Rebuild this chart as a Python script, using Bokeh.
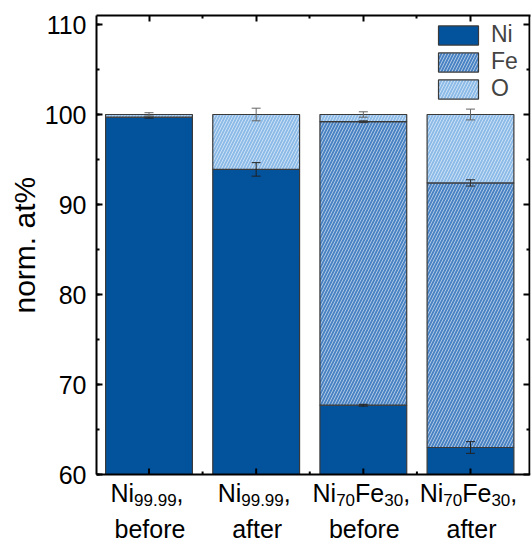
from bokeh.plotting import figure
from bokeh.core.properties import value
from bokeh.models import (Range1d, FixedTicker, SingleIntervalTicker,
                          ColumnDataSource, Whisker, TeeHead, Legend, LegendItem,
                          CustomLabelingPolicy, Title)
from bokeh.embed import file_html
from bokeh.resources import INLINE

# ---------------- data ----------------
label_line1 = [
    [("Ni", "n"), ("99.99", "s"), (",", "n")],
    [("Ni", "n"), ("99.99", "s"), (",", "n")],
    [("Ni", "n"), ("70", "s"), ("Fe", "n"), ("30", "s"), (",", "n")],
    [("Ni", "n"), ("70", "s"), ("Fe", "n"), ("30", "s"), (",", "n")],
]
label_line2 = ["before", "after", "before", "after"]
y_title = "norm. at%"
series = ["Ni", "Fe", "O"]
ni = [99.7, 93.9, 67.7, 63.0]
fe = [0.0, 0.0, 31.5, 29.4]
o = [0.3, 6.1, 0.8, 7.6]
ni_err = [0.1, 0.75, 0.1, 0.65]
fe_err = [0.0, 0.0, 0.1, 0.35]
o_err = [0.2, 0.7, 0.3, 0.6]
y_ticks = [60, 70, 80, 90, 100, 110]
y_min, y_max = 60, 111

# ---------------- layout / styling ----------------
FONT = "Liberation Sans"
MAIN = 25
SUB = 17
C_NI = "#02529C"
C_FE = "#4A83C3"
C_O = "#8DBBE8"
OUT = "#3a3a3a"
Wd, H = 531, 542
LEFT, RIGHT = 96, 1
TOP = 15          # frame top in px
AXIS_Y = 474      # px of the bottom axis line
X0, X1 = 0.51, 4.56
SCALE = (AXIS_Y - TOP) / (y_max - y_min)      # px per y unit
XSCALE = (Wd - LEFT - RIGHT) / (X1 - X0)      # px per x unit
y_low = y_min - (H - AXIS_Y) / SCALE          # frame extends below axis for labels
TXT_SHIFT = 9     # empirical baseline correction of text glyphs


def px(d):
    return d / SCALE


def pxx(d):
    return d / XSCALE


xs = list(range(1, len(ni) + 1))
ni_top = ni[:]
fe_top = [a + b for a, b in zip(ni, fe)]
o_top = [a + b + c for a, b, c in zip(ni, fe, o)]

p = figure(width=Wd, height=H, output_backend="svg", toolbar_location=None,
           x_range=Range1d(X0, X1), y_range=Range1d(y_low, y_max),
           x_axis_location="above",
           min_border_left=LEFT, min_border_right=RIGHT, min_border_top=TOP, min_border_bottom=0)
p.xgrid.visible = False
p.ygrid.visible = False
p.outline_line_color = None
p.background_fill_color = "white"
p.border_fill_color = "white"

W = 0.81
HATCH = dict(hatch_pattern="/", hatch_color="white", hatch_alpha=0.55,
             hatch_scale=6, hatch_weight=1)
src = ColumnDataSource(dict(x=xs, ni_b=[y_min] * len(xs), ni_t=ni_top, fe_t=fe_top, o_t=o_top))
r_ni = p.vbar(x="x", bottom="ni_b", top="ni_t", width=W, source=src,
              fill_color=C_NI, line_color=OUT, line_width=1.2)
r_fe = p.vbar(x="x", bottom="ni_t", top="fe_t", width=W, source=src,
              fill_color=C_FE, line_color=OUT, line_width=1.2, **HATCH)
r_o = p.vbar(x="x", bottom="fe_t", top="o_t", width=W, source=src,
             fill_color=C_O, line_color=OUT, line_width=1.2, **HATCH)


def add_whisker(tops, errs, color):
    bx, lo, hi = [], [], []
    for x, t, e in zip(xs, tops, errs):
        if e > 0:
            bx.append(x)
            lo.append(t - e)
            hi.append(t + e)
    s = ColumnDataSource(dict(base=bx, lower=lo, upper=hi))
    w = Whisker(base="base", lower="lower", upper="upper", source=s, dimension="height",
                line_color=color, line_width=1, level="overlay",
                upper_head=TeeHead(size=9, line_color=color, line_width=1),
                lower_head=TeeHead(size=9, line_color=color, line_width=1))
    p.add_layout(w)


add_whisker(ni_top, ni_err, "#222222")
add_whisker(fe_top, fe_err, "#333333")
add_whisker(o_top, o_err, "#666666")

# ---------------- axes ----------------
NO_LABELS = "for (const i of Array.from(indices)) { indices.unset(i) }\nreturn indices"


def style_axis(ax):
    ax.axis_line_color = "black"
    ax.axis_line_width = 2
    ax.major_tick_in = 6
    ax.major_tick_out = 0
    ax.minor_tick_in = 3
    ax.minor_tick_out = 0
    ax.major_tick_line_width = 2
    ax.minor_tick_line_width = 2
    ax.major_tick_line_color = "black"
    ax.minor_tick_line_color = "black"


minor_x = [x + 0.5 for x in xs[:-1]]
xa = p.xaxis[0]   # top axis (ticks only)
xa.ticker = FixedTicker(ticks=xs, minor_ticks=minor_x)
style_axis(xa)
xa.major_label_policy = CustomLabelingPolicy(code=NO_LABELS)
xa.major_label_standoff = 0

ya = p.yaxis[0]
ya.ticker = SingleIntervalTicker(interval=10, num_minor_ticks=2)
ya.bounds = (y_min, y_max)
style_axis(ya)
ya.major_label_text_font = FONT
ya.major_label_text_font_size = "25px"
ya.major_label_text_color = "black"
ya.major_label_standoff = 10

# y title as a left-side Title so it can be centred on the 60..111 span
p.add_layout(Title(text=y_title, align="left", offset=(H - 313), standoff=2,
                   text_font=FONT, text_font_size="30px", text_font_style="normal",
                   text_color="black"), "left")

# bottom and right frame lines with inward ticks
minor_y = [(a + b) / 2 for a, b in zip(y_ticks[:-1], y_ticks[1:])]
xr = X1 - pxx(1)
seg = dict(line_color="black", line_width=2)
p.segment(x0=[X0], y0=[y_min], x1=[X1], y1=[y_min], **seg)
p.segment(x0=xs, y0=[y_min] * len(xs), x1=xs, y1=[y_min + px(6)] * len(xs), **seg)
p.segment(x0=minor_x, y0=[y_min] * len(minor_x), x1=minor_x,
          y1=[y_min + px(3)] * len(minor_x), **seg)
p.segment(x0=[xr], y0=[y_min], x1=[xr], y1=[y_max], **seg)
p.segment(x0=[xr] * len(y_ticks), y0=y_ticks, x1=[xr - pxx(6)] * len(y_ticks), y1=y_ticks, **seg)
p.segment(x0=[xr] * len(minor_y), y0=minor_y, x1=[xr - pxx(3)] * len(minor_y), y1=minor_y, **seg)

# ---------------- legend ----------------
legend = Legend(items=[LegendItem(label=n, renderers=[r]) for n, r in zip(series, [r_ni, r_fe, r_o])],
                location="top_right", margin=6, padding=0, spacing=0,
                glyph_width=50, glyph_height=24, label_standoff=8, label_width=33,
                label_text_font=FONT, label_text_font_size="23px", label_height=24,
                background_fill_alpha=0, border_line_alpha=0)
p.add_layout(legend)

# ---------------- category labels with subscripts ----------------
ADV = {"N": .722, "i": .222, "F": .611, "e": .556, ",": .278, ".": .278}


def tw(s, size):
    return sum(ADV.get(ch, .556) for ch in s) * size


rows = dict(x=[], y=[], text=[], dx=[], size=[], align=[])
for x, parts, line2 in zip(xs, label_line1, label_line2):
    total = sum(tw(t, MAIN if k == "n" else SUB) for t, k in parts)
    off = -total / 2 - 2
    for t, k in parts:
        size = MAIN if k == "n" else SUB
        rows["x"].append(x)
        rows["y"].append(y_min - px((27 if k == "n" else 34) - TXT_SHIFT))
        rows["text"].append(t)
        rows["dx"].append(off)
        rows["size"].append(f"{size}px")
        rows["align"].append("left")
        off += tw(t, size)
    rows["x"].append(x)
    rows["y"].append(y_min - px(63 - TXT_SHIFT))
    rows["text"].append(line2)
    rows["dx"].append(1)
    rows["size"].append(f"{MAIN}px")
    rows["align"].append("center")

p.text(x="x", y="y", text="text", x_offset="dx", text_font_size="size",
       text_align="align", text_baseline="alphabetic", text_color="black",
       text_font=value(FONT), source=ColumnDataSource(rows))

open("out.html", "w").write(file_html(p, INLINE))
